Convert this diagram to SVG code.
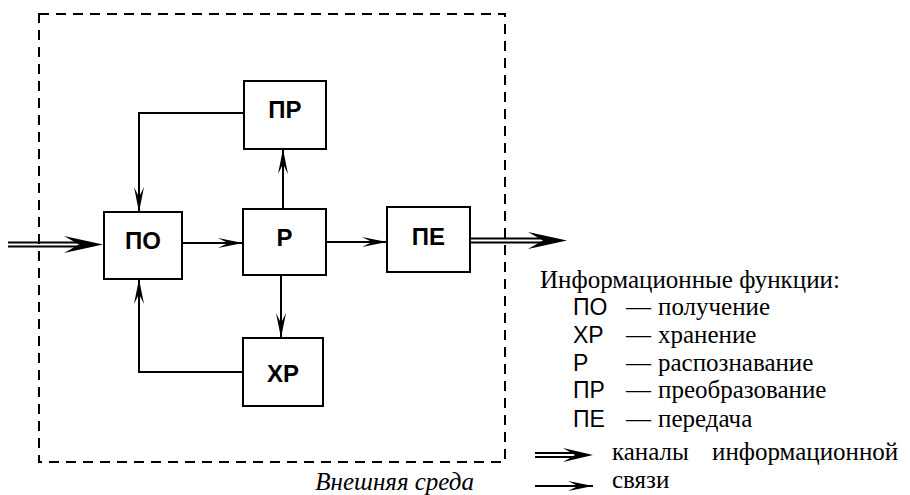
<svg xmlns="http://www.w3.org/2000/svg" width="910" height="495" viewBox="0 0 910 495">
<style>
.box{fill:#fff;stroke:#000;stroke-width:2}
.lbl{font-family:"Liberation Sans",Arial,sans-serif;font-weight:bold;font-size:24px;text-anchor:middle;fill:#000}
.ln{fill:none;stroke:#000;stroke-width:2}
.san{font-family:"Liberation Sans",Arial,sans-serif;font-size:23px;fill:#000}
.ser{font-family:"Liberation Serif","Times New Roman",serif;font-size:25px;fill:#000}
</style>
<defs>
<marker id="ah" markerUnits="userSpaceOnUse" viewBox="-26 -6 28 12" refX="0" refY="0" markerWidth="28" markerHeight="12" orient="auto">
<path d="M0,0 L-25,-5 L-15,0 L-25,5 Z" fill="#000"/>
</marker>
<path id="dh" d="M0,0 L-39,-8.5 L-24,0 L-39,8.5 Z" fill="#000"/>
<path id="dhs" d="M0,0 L-30,-7 L-18,0 L-30,7 Z" fill="#000"/>
</defs>
<rect x="39" y="14" width="466" height="448" fill="none" stroke="#000" stroke-width="2" stroke-dasharray="10 7"/>
<g id="connectors">
<line class="ln" x1="8" y1="242.5" x2="82" y2="242.5"/>
<line class="ln" x1="8" y1="246.5" x2="82" y2="246.5"/>
<use href="#dh" transform="translate(103,244.5)"/>
<line class="ln" x1="182" y1="243" x2="243" y2="243" marker-end="url(#ah)"/>
<line class="ln" x1="326" y1="242" x2="387" y2="242" marker-end="url(#ah)"/>
<line class="ln" x1="470" y1="238.5" x2="546" y2="238.5"/>
<line class="ln" x1="470" y1="242.5" x2="546" y2="242.5"/>
<use href="#dh" transform="translate(567,240.5)"/>
<line class="ln" x1="283" y1="209" x2="283" y2="149" marker-end="url(#ah)"/>
<line class="ln" x1="281" y1="275" x2="281" y2="338" marker-end="url(#ah)"/>
<polyline class="ln" points="244,113 139,113 139,212" marker-end="url(#ah)"/>
<polyline class="ln" points="242,372 139,372 139,279" marker-end="url(#ah)"/>
</g>
<g id="PO"><rect class="box" x="104" y="212" width="78" height="67"/><text class="lbl" x="143" y="249">ПО</text></g>
<g id="R"><rect class="box" x="243" y="209" width="83" height="66"/><text class="lbl" x="284.5" y="246">Р</text></g>
<g id="PE"><rect class="box" x="387" y="207" width="83" height="65"/><text class="lbl" x="428.5" y="245">ПЕ</text></g>
<g id="PR"><rect class="box" x="244" y="81" width="82" height="68"/><text class="lbl" x="285" y="118">ПР</text></g>
<g id="XR"><rect class="box" x="243" y="338" width="80" height="68"/><text class="lbl" x="283" y="382">ХР</text></g>
<text class="ser" x="474" y="490" text-anchor="end" font-style="italic" font-size="24">Внешняя среда</text>
<g id="legend">
<text class="ser" x="540" y="288">Информационные функции:</text>
<text class="san" x="573" y="315">ПО</text><text class="ser" y="315"><tspan x="626">—</tspan><tspan x="658">получение</tspan></text>
<text class="san" x="573" y="343">ХР</text><text class="ser" y="343"><tspan x="626">—</tspan><tspan x="658">хранение</tspan></text>
<text class="san" x="573" y="371">Р</text><text class="ser" y="371"><tspan x="626">—</tspan><tspan x="658">распознавание</tspan></text>
<text class="san" x="573" y="398">ПР</text><text class="ser" y="398"><tspan x="626">—</tspan><tspan x="658">преобразование</tspan></text>
<text class="san" x="573" y="427">ПЕ</text><text class="ser" y="427"><tspan x="626">—</tspan><tspan x="658">передача</tspan></text>
<line class="ln" x1="535" y1="453" x2="576" y2="453"/>
<line class="ln" x1="535" y1="457" x2="576" y2="457"/>
<use href="#dhs" transform="translate(593,455)"/>
<line class="ln" x1="535" y1="486" x2="593" y2="486" marker-end="url(#ah)"/>
<text class="ser" y="460"><tspan x="612">каналы</tspan><tspan x="712">информационной</tspan></text>
<text class="ser" x="612" y="488">связи</text>
</g>
</svg>
